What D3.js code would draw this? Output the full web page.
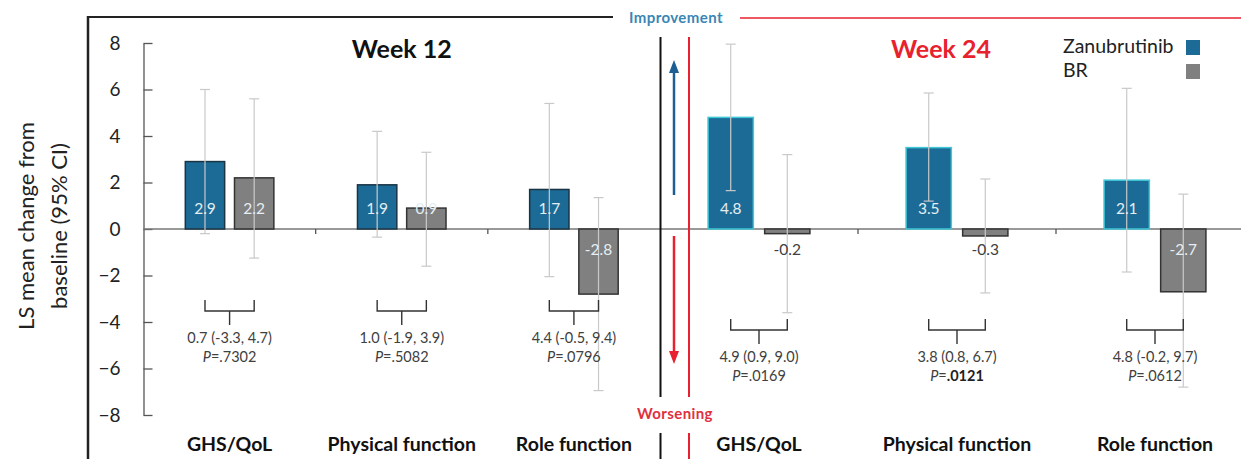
<!DOCTYPE html>
<html>
<head>
<meta charset="utf-8">
<script src="https://cdn.jsdelivr.net/npm/d3@7"></script>
<style>
  html, body { margin: 0; padding: 0; background: #fff; }
  svg { display: block; font-family: Lato, "Open Sans", sans-serif; }
</style>
</head>
<body>
<svg id="chart" width="1241" height="459"></svg>
<script>
// ---------- data ----------
const categories = ["GHS/QoL", "Physical function", "Role function"];
const weeks = ["Week 12", "Week 24"];
const series = ["Zanubrutinib", "BR"];

const zanW12 = [2.9, 1.9, 1.7];
const brW12  = [2.2, 0.9, -2.8];
const zanW24 = [4.8, 3.5, 2.1];
const brW24  = [-0.2, -0.3, -2.7];

const zanW12Lo = [-0.2, -0.35, -2.05];
const zanW12Hi = [6.0, 4.2, 5.4];
const brW12Lo  = [-1.25, -1.6, -6.95];
const brW12Hi  = [5.6, 3.3, 1.35];
const zanW24Lo = [1.65, 1.2, -1.85];
const zanW24Hi = [7.95, 5.85, 6.05];
const brW24Lo  = [-3.6, -2.75, -6.8];
const brW24Hi  = [3.2, 2.15, 1.5];

const diffW12 = ["0.7 (-3.3, 4.7)", "1.0 (-1.9, 3.9)", "4.4 (-0.5, 9.4)"];
const pW12    = [".7302", ".5082", ".0796"];
const diffW24 = ["4.9 (0.9, 9.0)", "3.8 (0.8, 6.7)", "4.8 (-0.2, 9.7)"];
const pW24    = [".0169", ".0121", ".0612"];
const pBoldW24 = [false, true, false];

const yTicks = [-8, -6, -4, -2, 0, 2, 4, 6, 8];

// ---------- styles ----------
const BLUE = "#1c6b96", GRAY = "#808080";
const RED = "#e8212e";
const svg = d3.select("#chart");

// ---------- scales ----------
const y = d3.scaleLinear().domain([-8, 8]).range([415, 43]);
const x12 = d3.scaleBand().domain(categories).range([143.5, 660]);
const x24 = d3.scaleBand().domain(categories).range([660, 1254]);
const inner12 = d3.scaleBand().domain(series).range([0, x12.bandwidth()]).paddingInner(0.2).paddingOuter(0.85);
const inner24 = d3.scaleBand().domain(series).range([0, x24.bandwidth()]).paddingInner(0.2).paddingOuter(0.85);

// ---------- frame ----------
svg.append("line").attr("x1", 88).attr("x2", 88).attr("y1", 16).attr("y2", 459)
  .attr("stroke", "#222").attr("stroke-width", 2.5);
svg.append("line").attr("x1", 87).attr("x2", 613).attr("y1", 17).attr("y2", 17)
  .attr("stroke", "#222").attr("stroke-width", 2);
svg.append("line").attr("x1", 740).attr("x2", 1241).attr("y1", 18).attr("y2", 18)
  .attr("stroke", RED).attr("stroke-width", 1.5);
svg.append("text").attr("x", 676).attr("y", 19).attr("text-anchor", "middle")
  .attr("dominant-baseline", "middle").attr("font-size", 15).attr("font-weight", "bold")
  .attr("letter-spacing", 0.4).attr("fill", "#3a86b5").text("Improvement");
svg.append("text").attr("x", 675).attr("y", 415).attr("text-anchor", "middle")
  .attr("dominant-baseline", "middle").attr("font-size", 15).attr("font-weight", "bold")
  .attr("letter-spacing", 0.4).attr("fill", "#e0303e").text("Worsening");

// ---------- y axis ----------
const yAxis = d3.axisLeft(y).tickValues(yTicks).tickSizeInner(-9).tickSizeOuter(0).tickPadding(23);
const gy = svg.append("g").attr("transform", "translate(143.5,0)").call(yAxis);
gy.select(".domain").attr("stroke", "#555").attr("stroke-width", 1.3);
gy.selectAll(".tick line").attr("stroke", "#555").attr("stroke-width", 1.3);
gy.selectAll(".tick text").attr("font-size", 19).attr("fill", "#222")
  .attr("font-family", "Lato, sans-serif");

// y title
const yt = svg.append("text").attr("transform", "translate(26,226) rotate(-90)")
  .attr("text-anchor", "middle").attr("font-size", 22).attr("fill", "#222");
yt.append("tspan").attr("x", 0).attr("dy", "0.35em").text("LS mean change from");
yt.append("tspan").attr("x", 0).attr("dy", "1.5em").text("baseline (95% CI)");

// zero line
svg.append("line").attr("x1", 143.5).attr("x2", 1241).attr("y1", y(0)).attr("y2", y(0))
  .attr("stroke", "#777").attr("stroke-width", 1.5);

// ---------- panels ----------
const panels = [
  { x: x12, inner: inner12, zan: zanW12, br: brW12, zLo: zanW12Lo, zHi: zanW12Hi, bLo: brW12Lo, bHi: brW12Hi,
    diff: diffW12, p: pW12, pBold: [false, false, false], brTop: 300, zanStroke: "#1b3444", title: weeks[0], titleColor: "#111", titleDx: 0 },
  { x: x24, inner: inner24, zan: zanW24, br: brW24, zLo: zanW24Lo, zHi: zanW24Hi, bLo: brW24Lo, bHi: brW24Hi,
    diff: diffW24, p: pW24, pBold: pBoldW24, brTop: 319, zanStroke: "#3fc7d6", title: weeks[1], titleColor: RED, titleDx: -16 }
];

panels.forEach(P => {
  const g = svg.append("g");
  const bw = P.inner.bandwidth();
  // category ticks on zero line
  categories.slice(0, 2).forEach(c => {
    const xb = P.x(c) + P.x.bandwidth();
    g.append("line").attr("x1", xb).attr("x2", xb).attr("y1", y(0)).attr("y2", y(0) + 5)
      .attr("stroke", "#555").attr("stroke-width", 1.3);
  });

  categories.forEach((c, i) => {
    const gx = P.x(c);
    const rows = [
      { s: "Zanubrutinib", v: P.zan[i], lo: P.zLo[i], hi: P.zHi[i], fill: BLUE, stroke: P.zanStroke },
      { s: "BR", v: P.br[i], lo: P.bLo[i], hi: P.bHi[i], fill: GRAY, stroke: "#333" }
    ];
    rows.forEach(r => {
      const bx = gx + P.inner(r.s);
      const y0 = y(Math.max(0, r.v)), y1 = y(Math.min(0, r.v));
      g.append("rect").attr("x", bx).attr("y", y0).attr("width", bw).attr("height", y1 - y0)
        .attr("fill", r.fill).attr("stroke", r.stroke).attr("stroke-width", 1.5);
    });
    rows.forEach(r => {
      const cx = gx + P.inner(r.s) + bw / 2;
      g.append("line").attr("x1", cx).attr("x2", cx).attr("y1", y(r.hi)).attr("y2", y(r.lo))
        .attr("stroke", "#c9c9c9").attr("stroke-width", 1.2);
      [r.hi, r.lo].forEach(v => {
        g.append("line").attr("x1", cx - 5).attr("x2", cx + 5).attr("y1", y(v)).attr("y2", y(v))
          .attr("stroke", "#c9c9c9").attr("stroke-width", 1.2);
      });
    });
    rows.forEach(r => {
      const cx = gx + P.inner(r.s) + bw / 2;
      const inside = Math.abs(r.v) >= 0.8;
      const ly = r.v >= 0 ? y(0) - 19 : y(0) + 22;
      g.append("text").attr("x", cx).attr("y", ly).attr("text-anchor", "middle")
        .attr("dominant-baseline", "middle").attr("font-size", 15.5)
        .attr("fill", inside ? "#e4eef3" : "#404040").text(d3.format(".1f")(r.v).replace("−", "-"));
    });

    // bracket + difference text
    const mid = gx + P.x.bandwidth() / 2;
    const half = P.inner.step() / 2;
    const t = P.brTop;
    g.append("path")
      .attr("d", `M${mid - half},${t} V${t + 11} H${mid + half} V${t}`)
      .attr("fill", "none").attr("stroke", "#333").attr("stroke-width", 1.4);
    g.append("line").attr("x1", mid).attr("x2", mid).attr("y1", t + 11).attr("y2", t + 25)
      .attr("stroke", "#333").attr("stroke-width", 1.4);
    g.append("text").attr("x", mid).attr("y", t + 39).attr("text-anchor", "middle")
      .attr("dominant-baseline", "middle").attr("font-size", 14.5).attr("fill", "#404040").text(P.diff[i]);
    const pt = g.append("text").attr("x", mid).attr("y", t + 58).attr("text-anchor", "middle")
      .attr("dominant-baseline", "middle").attr("font-size", 14.5).attr("fill", "#404040");
    pt.append("tspan").attr("font-style", "italic").text("P");
    pt.append("tspan").text("=");
    pt.append("tspan").attr("font-weight", P.pBold[i] ? "bold" : "normal")
      .attr("fill", P.pBold[i] ? "#222" : "#404040").text(P.p[i]);

    // category label
    g.append("text").attr("x", mid).attr("y", 446).attr("text-anchor", "middle")
      .attr("dominant-baseline", "middle").attr("font-size", 19.5).attr("font-weight", "bold")
      .attr("fill", "#111").text(c);
  });

  // panel title
  g.append("text").attr("x", P.x(categories[1]) + P.x.bandwidth() / 2 + P.titleDx).attr("y", 52)
    .attr("text-anchor", "middle").attr("dominant-baseline", "middle")
    .attr("font-size", 25).attr("font-weight", "bold").attr("fill", P.titleColor).text(P.title);
});

// ---------- separator lines and arrows ----------
[[660.5, "#111"], [689, RED]].forEach(([xx, col]) => {
  svg.append("line").attr("x1", xx).attr("x2", xx).attr("y1", 37).attr("y2", 397)
    .attr("stroke", col).attr("stroke-width", 2);
  svg.append("line").attr("x1", xx).attr("x2", xx).attr("y1", 433).attr("y2", 459)
    .attr("stroke", col).attr("stroke-width", 2);
});
// up arrow (improvement)
svg.append("line").attr("x1", 674).attr("x2", 674).attr("y1", 195).attr("y2", 70)
  .attr("stroke", "#1d5f92").attr("stroke-width", 2.5);
svg.append("path").attr("d", "M674,60 L669,73 L679,73 Z").attr("fill", "#1d5f92");
// down arrow (worsening)
svg.append("line").attr("x1", 674).attr("x2", 674).attr("y1", 236).attr("y2", 352)
  .attr("stroke", "#e8212e").attr("stroke-width", 2.5);
svg.append("path").attr("d", "M674,364 L669,351 L679,351 Z").attr("fill", "#e8212e");

// ---------- legend ----------
const legend = svg.append("g");
series.forEach((s, i) => {
  legend.append("text").attr("x", 1063).attr("y", 48 + i * 24).attr("dominant-baseline", "middle")
    .attr("font-size", 19.5).attr("fill", "#222").text(s);
  legend.append("rect").attr("x", 1186).attr("y", 40 + i * 24).attr("width", 14).attr("height", 15)
    .attr("fill", i === 0 ? BLUE : GRAY);
});
</script>
</body>
</html>
